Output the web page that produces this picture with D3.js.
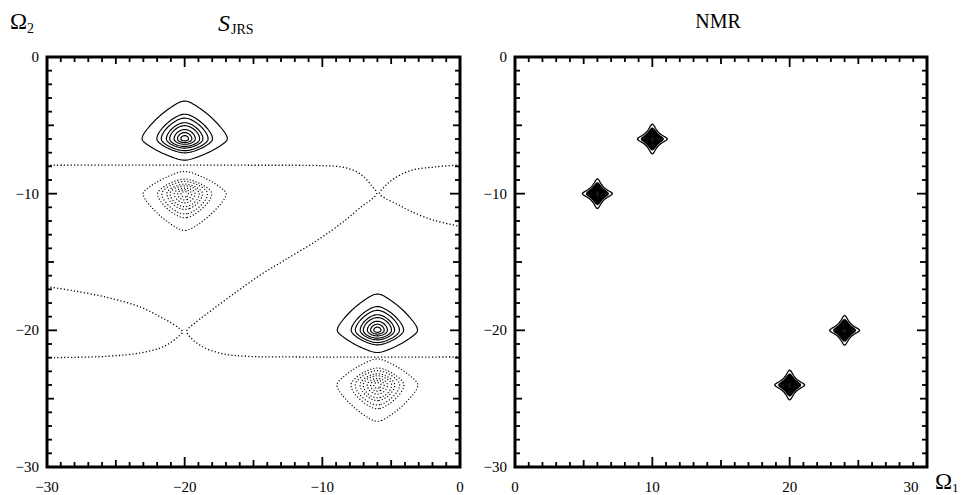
<!DOCTYPE html>
<html><head><meta charset="utf-8">
<script src="https://cdn.jsdelivr.net/npm/d3@7"></script>
<style>
html,body{margin:0;padding:0;background:#fff;}
svg{display:block;}
text{font-family:"Liberation Serif","Times New Roman",serif;fill:#000;}
</style></head><body>
<svg id="chart" width="973" height="495"></svg>
<script>
// ---------------- data ----------------
const leftXDomain = [-30, 0];
const rightXDomain = [0, 30];
const yDomain = [0, -30];
const leftXTickLabels = [-30, -20, -10, 0];
const rightXTickLabels = [0, 10, 20, 30];
const yTickLabels = [0, -10, -20, -30];

// S_JRS peaks (centre, sign, half-widths in data units)
const jrsPeakX = [-20, -20, -6, -6];
const jrsPeakY = [-6, -10, -20, -24];
const jrsPeakSign = [1, -1, 1, -1];
const jrsPeakWx = [0.78, 0.76, 0.735, 0.74];
const jrsPeakWTop = [0.70, 0.41, 0.67, 0.48];
const jrsPeakWBottom = [0.39, 0.68, 0.41, 0.67];
const jrsLevels = [0.06, 0.13, 0.174, 0.257, 0.34, 0.505, 0.69, 0.885];

// dotted resonance curves
const curve1X = [-30, -28.1, -25.6, -23.2, -21.8, -20.9, -20.4, -20.15, -20.45, -21.1, -21.8, -23.2, -25.6, -30];
const curve1Y = [-16.8, -17.1, -17.6, -18.3, -19.0, -19.5, -19.85, -20.1, -20.45, -20.95, -21.3, -21.65, -21.9, -22.0];
const curve2X = [-30, -15, -10, -8.6, -7.6, -6.9, -6.4, -6.05, -6.4, -7.1, -8.4, -10.35, -12.8, -14.5, -16.4, -18.4, -19.3, -19.85, -19.5, -18.7, -17.3, -15.5, -12, 0];
const curve2Y = [-7.92, -7.92, -7.95, -8.05, -8.35, -8.85, -9.45, -9.95, -10.4, -10.9, -12.0, -13.4, -14.9, -15.95, -17.3, -18.8, -19.5, -20.05, -20.6, -21.2, -21.7, -21.9, -21.95, -21.95];
const curve3X = [0, -1.9, -3.56, -4.8, -5.45, -5.85, -5.4, -4.5, -3.56, -1.9, 0];
const curve3Y = [-7.9, -8.05, -8.3, -8.9, -9.45, -10.0, -10.35, -10.8, -11.3, -11.95, -12.4];

// NMR peaks
const nmrPeakX = [6, 10, 20, 24];
const nmrPeakY = [-10, -6, -24, -20];
const nmrPeakW = [0.25, 0.25, 0.25, 0.25];
const nmrLevels = [0.05, 0.09, 0.11, 0.135, 0.165, 0.2, 0.25, 0.31, 0.38, 0.47, 0.58, 0.72, 0.9];

// ---------------- layout ----------------
const svg = d3.select("#chart");
const plotTop = 57, plotBottom = 467;
const leftPanel = {x0: 47, x1: 460};
const rightPanel = {x0: 515, x1: 927};

const yScale = d3.scaleLinear().domain(yDomain).range([plotTop, plotBottom]);
const xL = d3.scaleLinear().domain(leftXDomain).range([leftPanel.x0, leftPanel.x1]);
const xR = d3.scaleLinear().domain(rightXDomain).range([rightPanel.x0, rightPanel.x1]);

const defs = svg.append("defs");
function clip(id, xs) {
  defs.append("clipPath").attr("id", id).append("rect")
    .attr("x", xs.range()[0]).attr("y", plotTop)
    .attr("width", xs.range()[1] - xs.range()[0]).attr("height", plotBottom - plotTop);
}
clip("clipL", xL); clip("clipR", xR);

function contourLayer(g, xs, field, levels, style) {
  const x0 = xs.range()[0], w = Math.round(xs.range()[1] - x0);
  const h = Math.round(plotBottom - plotTop);
  const vals = new Float64Array(w * h);
  for (let j = 0; j < h; j++) {
    const yv = yScale.invert(plotTop + j + 0.5);
    for (let i = 0; i < w; i++) {
      vals[j * w + i] = field(xs.invert(x0 + i + 0.5), yv);
    }
  }
  const cs = d3.contours().size([w, h]).thresholds(levels)(vals);
  const path = d3.geoPath(d3.geoIdentity().translate([x0, plotTop]));
  g.selectAll(null).data(cs).enter().append("path")
    .attr("d", path).attr("fill", "none").attr("stroke", "#000")
    .attr("stroke-width", style.width)
    .attr("stroke-dasharray", style.dash || null)
    .attr("stroke-linejoin", "round");
}

function jrsField(sign) {
  const alpha = 0.25;
  return (x, y) => {
    let s = 0;
    for (let k = 0; k < jrsPeakX.length; k++) {
      if (jrsPeakSign[k] !== sign) continue;
      const a = (x - jrsPeakX[k]) / jrsPeakWx[k];
      const dyr = y - jrsPeakY[k];
      const b = dyr / (dyr > 0 ? jrsPeakWTop[k] : jrsPeakWBottom[k]);
      const prod = 1 / ((1 + a * a) * (1 + b * b));
      const rad = 1 / (1 + a * a + b * b);
      s += Math.pow(prod, alpha) * Math.pow(rad, 1 - alpha);
    }
    return s;
  };
}
function nmrField(x, y) {
  let s = 0;
  for (let k = 0; k < nmrPeakX.length; k++) {
    const a = (x - nmrPeakX[k]) / nmrPeakW[k];
    const b = (y - nmrPeakY[k]) / nmrPeakW[k];
    s += 1 / ((1 + a * a) * (1 + b * b));
  }
  return s;
}

// ---- left panel content ----
const gL = svg.append("g").attr("clip-path", "url(#clipL)");
contourLayer(gL, xL, jrsField(1), jrsLevels, {width: 1.15});
contourLayer(gL, xL, jrsField(-1), jrsLevels, {width: 1.2, dash: "1.1,2"});

const line = d3.line().x(d => xL(d[0])).y(d => yScale(d[1])).curve(d3.curveCatmullRom.alpha(0.5));
[[curve1X, curve1Y], [curve2X, curve2Y], [curve3X, curve3Y]].forEach(([cx, cy]) => {
  gL.append("path").attr("d", line(cx.map((v, i) => [v, cy[i]])))
    .attr("fill", "none").attr("stroke", "#000").attr("stroke-width", 1.3)
    .attr("stroke-dasharray", "1.2,2.2");
});

// ---- right panel content ----
const gR = svg.append("g").attr("clip-path", "url(#clipR)");
contourLayer(gR, xR, nmrField, nmrLevels, {width: 1.3});

// ---- frames & inward ticks ----
function frame(xs) {
  const [x0, x1] = xs.range();
  const tickLen = v => { const r = Math.abs(Math.round(v)); return r % 10 === 0 ? 10 : r % 5 === 0 ? 7 : 5; };
  const tg = svg.append("g").attr("class", "ticks");
  const xt = xs.ticks(30), yt = yScale.ticks(30);
  tg.selectAll(null).data(xt).enter().append("rect")
    .attr("x", v => xs(v) - 0.9).attr("y", v => plotBottom - tickLen(v))
    .attr("width", 1.8).attr("height", v => tickLen(v)).attr("fill", "#000");
  tg.selectAll(null).data(xt).enter().append("rect")
    .attr("x", v => xs(v) - 0.9).attr("y", plotTop)
    .attr("width", 1.8).attr("height", v => tickLen(v)).attr("fill", "#000");
  tg.selectAll(null).data(yt).enter().append("rect")
    .attr("x", x0).attr("y", v => yScale(v) - 0.9)
    .attr("width", v => tickLen(v)).attr("height", 1.8).attr("fill", "#000");
  tg.selectAll(null).data(yt).enter().append("rect")
    .attr("x", v => x1 - tickLen(v)).attr("y", v => yScale(v) - 0.9)
    .attr("width", v => tickLen(v)).attr("height", 1.8).attr("fill", "#000");
  svg.append("rect").attr("x", x0).attr("y", plotTop).attr("width", x1 - x0).attr("height", plotBottom - plotTop)
    .attr("fill", "none").attr("stroke", "#000").attr("stroke-width", 3);
  svg.append("g").selectAll(null).data(yTickLabels).enter().append("text")
    .attr("x", x0 - 8).attr("y", v => yScale(v) + 5)
    .attr("text-anchor", "end").attr("font-size", 15)
    .text(v => v === 0 ? "0" : "\u2212" + Math.abs(v));
}
frame(xL); frame(xR);

const fmt = d => d < 0 ? "\u2212" + Math.abs(d) : String(d);
svg.append("g").selectAll(null).data(leftXTickLabels).enter().append("text")
  .attr("x", d => xL(d)).attr("y", 492).attr("text-anchor", "middle").attr("font-size", 15)
  .text(fmt);
svg.append("g").selectAll(null).data(rightXTickLabels).enter().append("text")
  .attr("x", d => d === 30 ? xR(d) - 16 : xR(d)).attr("y", 492).attr("text-anchor", "middle").attr("font-size", 15)
  .text(fmt);

// ---- titles ----
const t1 = svg.append("text").attr("x", 10).attr("y", 29).attr("font-size", 23);
t1.append("tspan").text("\u03A9");
t1.append("tspan").attr("font-size", 14).attr("dy", 4).text("2");

const t2 = svg.append("text").attr("x", 218).attr("y", 31).attr("font-size", 24);
t2.append("tspan").attr("font-style", "italic").text("S");
t2.append("tspan").attr("font-size", 14).attr("dy", 3).attr("dx", 1).text("JRS");

svg.append("text").attr("x", 718).attr("y", 28).attr("text-anchor", "middle").attr("font-size", 20).text("NMR");

const t3 = svg.append("text").attr("x", 935).attr("y", 489).attr("font-size", 23);
t3.append("tspan").text("\u03A9");
t3.append("tspan").attr("font-size", 13).attr("dy", 3).text("1");
</script>
</body></html>
